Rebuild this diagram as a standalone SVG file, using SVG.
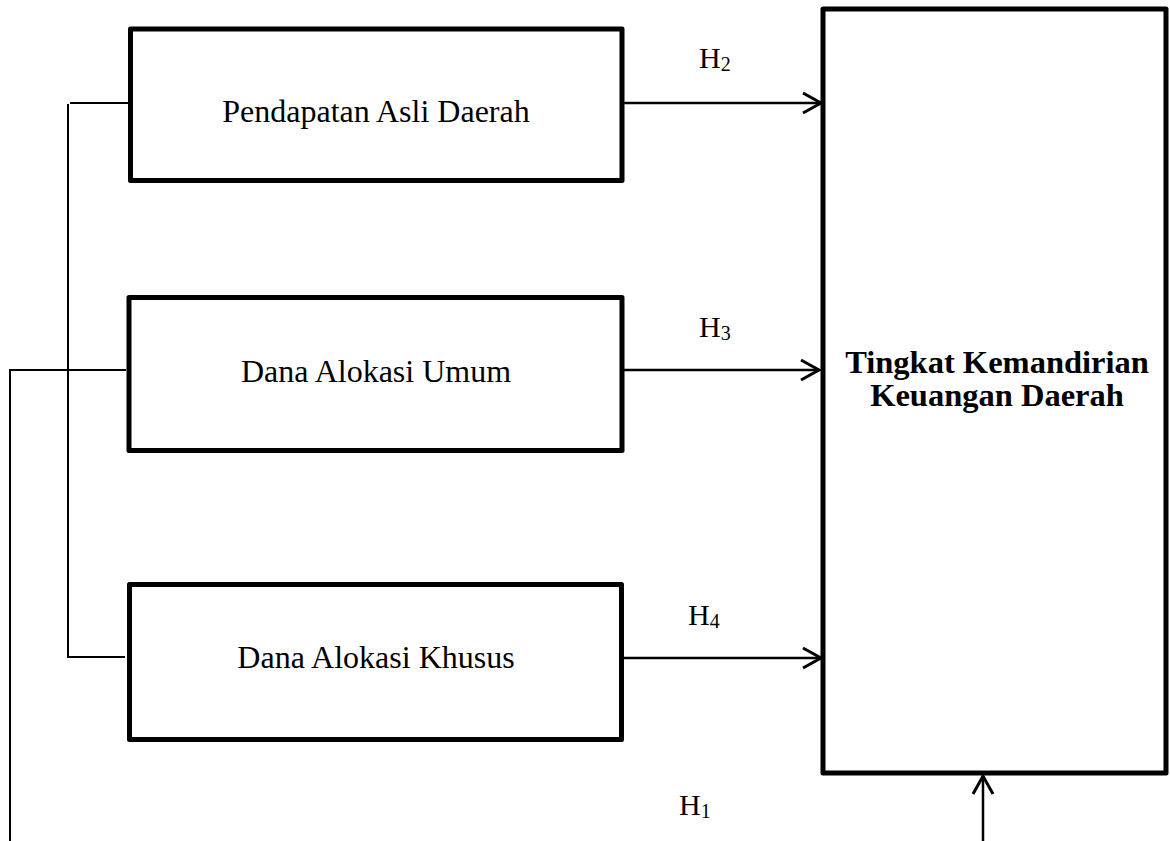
<svg xmlns="http://www.w3.org/2000/svg" width="1170" height="841" viewBox="0 0 1170 841">
<defs>
<style>
.box{fill:#fff;stroke:#000;stroke-width:5;stroke-linejoin:round}
.lbl{font-family:"Liberation Serif","Times New Roman",serif;font-size:32px;fill:#000;text-anchor:middle}
.title{font-family:"Liberation Serif","Times New Roman",serif;font-size:32.5px;font-weight:bold;fill:#000;text-anchor:middle}
.h{font-family:"Liberation Serif","Times New Roman",serif;font-size:30px;fill:#000}
.sub{font-size:20px}
.ln{fill:none;stroke:#000;stroke-width:2}
.arr{fill:none;stroke:#000;stroke-width:2.5}
</style>
<marker id="ah" markerUnits="userSpaceOnUse" markerWidth="26" markerHeight="26" refX="21" refY="12" orient="auto">
<path d="M3,2 L21,12 L3,22" fill="none" stroke="#000" stroke-width="3"/>
</marker>
</defs>
<rect width="1170" height="841" fill="#fff"/>
<g id="node-pad">
<rect class="box" x="130.5" y="29" width="491.5" height="151.5"/>
<text class="lbl" x="376" y="122">Pendapatan Asli Daerah</text>
</g>
<g id="node-dau">
<rect class="box" x="129" y="297.5" width="493" height="153"/>
<text class="lbl" x="376" y="382">Dana Alokasi Umum</text>
</g>
<g id="node-dak">
<rect class="box" x="129.5" y="584.5" width="492" height="155"/>
<text class="lbl" x="376" y="668">Dana Alokasi Khusus</text>
</g>
<g id="node-tkkd">
<rect class="box" x="823" y="9" width="343" height="764"/>
<text class="title" x="997" y="373">Tingkat Kemandirian</text>
<text class="title" x="997" y="406">Keuangan Daerah</text>
</g>
<g id="connectors">
<polyline class="ln" points="128,103 70,103"/>
<polyline class="ln" points="68,104 68,657 125,657"/>
<polyline class="ln" points="126,370 10,370 10,841"/>
<line class="arr" x1="624" y1="103" x2="821" y2="103" marker-end="url(#ah)"/>
<line class="arr" x1="624" y1="370" x2="819" y2="370" marker-end="url(#ah)"/>
<line class="arr" x1="624" y1="658" x2="821" y2="658" marker-end="url(#ah)"/>
<line class="arr" x1="983" y1="841" x2="983" y2="776" marker-end="url(#ah)"/>
</g>
<g id="labels">
<text class="h" x="699" y="68">H<tspan class="sub" dy="3">2</tspan></text>
<text class="h" x="699" y="337">H<tspan class="sub" dy="3">3</tspan></text>
<text class="h" x="688" y="625">H<tspan class="sub" dy="3">4</tspan></text>
<text class="h" x="679" y="815">H<tspan class="sub" dy="3">1</tspan></text>
</g>
</svg>
